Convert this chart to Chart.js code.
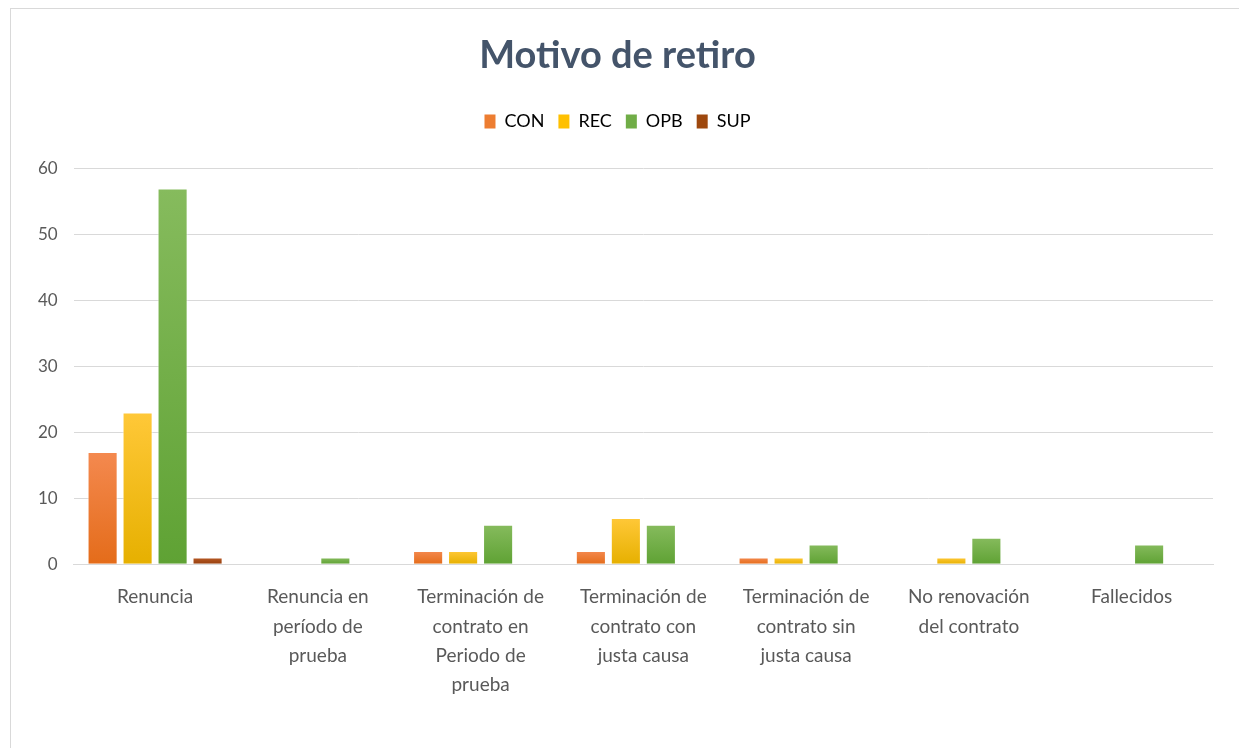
<!DOCTYPE html>
<html>
<head>
<meta charset="utf-8">
<script src="https://cdn.jsdelivr.net/npm/chart.js@4/dist/chart.umd.min.js"></script>
<style>
  html, body { margin: 0; padding: 0; background: #fff; }
  #frame { position: absolute; left: 10px; top: 8px; width: 1240px; height: 760px; border: 1px solid #d9d9d9; }
  #wrap { position: absolute; left: 0; top: 0; width: 1239px; height: 748px; }
</style>
</head>
<body>
<div id="frame"></div>
<div id="wrap"><canvas id="chart"></canvas></div>
<script>
const categories = [
    'Renuncia',
    ['Renuncia en', 'período de', 'prueba'],
    ['Terminación de', 'contrato en', 'Periodo de', 'prueba'],
    ['Terminación de', 'contrato con', 'justa causa'],
    ['Terminación de', 'contrato sin', 'justa causa'],
    ['No renovación', 'del contrato'],
    'Fallecidos'
];
const seriesNames = ['CON', 'REC', 'OPB', 'SUP'];
const conValues = [17, 0, 2, 2, 1, 0, 0];
const recValues = [23, 0, 2, 7, 1, 1, 0];
const opbValues = [57, 1, 6, 6, 3, 4, 3];
const supValues = [1, 0, 0, 0, 0, 0, 0];
const yTicks = [0, 10, 20, 30, 40, 50, 60];

// light top, dark bottom, like the office gradient fill
const palette = {
    CON: ['#f4894f', '#e46c1a', '#ed7d31'],
    REC: ['#ffc838', '#e6b000', '#ffc000'],
    OPB: ['#86bb5d', '#5fa234', '#70ad47'],
    SUP: ['#b85a25', '#963f0e', '#9e480e']
};

function barFill(name) {
    return (context) => {
        const chart = context.chart;
        const c = palette[name];
        if (!chart.chartArea || context.parsed == null) return c[2];
        const y = chart.scales.y;
        const top = y.getPixelForValue(context.parsed.y);
        const base = y.getPixelForValue(0);
        if (base - top < 1) return c[2];
        const g = chart.ctx.createLinearGradient(0, top, 0, base);
        g.addColorStop(0, c[0]);
        g.addColorStop(1, c[1]);
        return g;
    };
}

const allValues = [conValues, recValues, opbValues, supValues];

const datasets = seriesNames.map((name, i) => ({
    label: name,
    data: allValues[i],
    backgroundColor: barFill(name),
    borderColor: 'rgba(255,255,255,0.7)',
    borderWidth: 1,
    categoryPercentage: 0.86,
    barPercentage: 0.86
}));

// extra room under the legend
const legendGap = {
    id: 'legendGap',
    beforeInit(chart) {
        const fit = chart.legend.fit;
        chart.legend.fit = function () {
            fit.bind(chart.legend)();
            this.height += 28;
        };
    }
};

Chart.defaults.font.family = 'Lato, "Open Sans", sans-serif';
Chart.defaults.color = '#595959';

new Chart(document.getElementById('chart').getContext('2d'), {
    type: 'bar',
    data: { labels: categories, datasets: datasets },
    plugins: [legendGap],
    options: {
        responsive: true,
        maintainAspectRatio: false,
        animation: false,
        layout: { padding: { left: 22, right: 26, top: 25, bottom: 38 } },
        plugins: {
            title: {
                display: true,
                text: 'Motivo de retiro',
                color: '#44546a',
                font: { size: 38, weight: 'bold' },
                padding: { top: 8, bottom: 20 }
            },
            legend: {
                position: 'top',
                labels: {
                    color: '#595959',
                    font: { size: 18 },
                    boxWidth: 11,
                    boxHeight: 14,
                    padding: 14,
                    generateLabels: (chart) => seriesNames.map((name, i) => ({
                        text: name,
                        fillStyle: palette[name][2],
                        strokeStyle: palette[name][2],
                        lineWidth: 0,
                        datasetIndex: i
                    }))
                }
            },
            tooltip: { enabled: false }
        },
        scales: {
            x: {
                grid: { display: false },
                border: { color: '#d9d9d9' },
                ticks: {
                    color: '#595959',
                    font: { size: 19, lineHeight: 1.55 },
                    maxRotation: 0,
                    autoSkip: false,
                    padding: 10
                }
            },
            y: {
                min: 0,
                max: 60,
                afterBuildTicks: (axis) => { axis.ticks = yTicks.map(v => ({ value: v })); },
                border: { display: false },
                grid: { color: '#d9d9d9', lineWidth: 1, drawTicks: false },
                ticks: {
                    color: '#595959',
                    font: { size: 17 },
                    padding: 16
                }
            }
        }
    }
});
</script>
</body>
</html>
